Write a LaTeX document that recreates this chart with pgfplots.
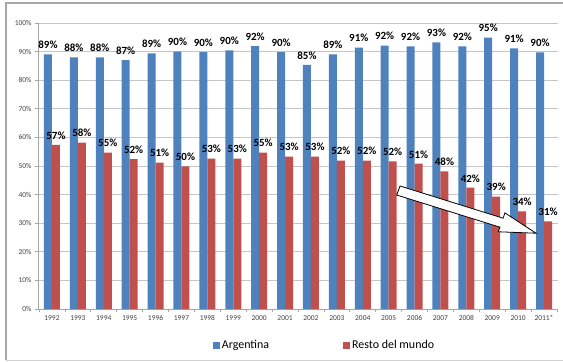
\documentclass[border=0pt]{standalone}
\usepackage{fontspec}
\setmainfont{Carlito}
\usepackage{pgfplots}
\pgfplotsset{compat=1.18}
\definecolor{argblue}{RGB}{79,129,189}
\definecolor{restred}{RGB}{192,80,77}
\begin{document}
\begin{tikzpicture}[x=1bp,y=1bp]
\path[use as bounding box] (-38,-52) rectangle (525,309);
\draw[gray!70, line width=1.2bp] (-32,-51) -- (-32,306) -- (525,306);
\draw[gray!35, line width=1bp] (-32,-51) -- (525,-51);
\begin{axis}[
  at={(0,0)}, anchor=south west,
  width=520bp, height=286bp, scale only axis,
  xmin=-0.54, xmax=19.54, ymin=0, ymax=100,
  ybar=0pt, bar width=8bp,
  axis x line*=bottom, axis y line*=left,
  axis line style={gray!70, line width=0.8bp},
  ytick={0,10,...,100},
  yticklabel={\pgfmathprintnumber{\tick}\%},
  ymajorgrids, grid style={gray!45, line width=0.8bp},
  xtick={0,...,19},
  xticklabels={1992,1993,1994,1995,1996,1997,1998,1999,2000,2001,2002,2003,2004,2005,2006,2007,2008,2009,2010,2011*},
  major x tick style={draw=none},
  minor xtick={-0.5,0.5,...,19.5},
  minor x tick style={gray!70, line width=0.8bp},
  y tick style={gray!70, line width=0.8bp},
  tick align=outside, major tick length=3bp, minor tick length=3bp,
  ticklabel style={font=\fontsize{7.5}{8}\selectfont, text=black!75},
  /pgf/number format/assume math mode=true,
  nodes near coords={\pgfmathprintnumber[fixed,precision=0]{\pgfplotspointmeta}\%},
  every node near coord/.append style={font=\bfseries\fontsize{11}{12}\selectfont, text=black, yshift=2bp},
  legend style={at={(0.551,-0.126)}, anchor=center, draw=none, fill=none,
    legend columns=2, font=\fontsize{12}{14}\selectfont,
    /tikz/every even column/.append style={column sep=72bp}},
  legend image code/.code={\fill[#1] (0bp,-3.5bp) rectangle (7bp,3.5bp);},
]
\addplot[fill=argblue, draw=none] coordinates {
 (0,89.0) (1,88.0) (2,88.0) (3,87.0) (4,89.4) (5,90.0) (6,89.8) (7,90.4) (8,91.9) (9,89.8)
 (10,85.4) (11,89.0) (12,91.4) (13,92.1) (14,91.8) (15,93.2) (16,91.8) (17,94.9) (18,91.1) (19,89.7)};
\addlegendentry{Argentina}
\addplot[fill=restred, draw=none] coordinates {
 (0,57.4) (1,58.2) (2,54.7) (3,52.4) (4,51.2) (5,49.9) (6,52.6) (7,52.6) (8,54.7) (9,53.3)
 (10,53.3) (11,51.9) (12,51.9) (13,51.6) (14,50.8) (15,48.1) (16,42.4) (17,39.3) (18,34.1) (19,30.6)};
\addlegendentry{Resto del mundo}
\draw[black, fill=white, line width=0.8bp, line join=miter]
  (axis cs:13.44,43.0) -- (axis cs:17.42,31.75) -- (axis cs:17.49,33.6)
  -- (axis cs:18.69,26.5) -- (axis cs:17.23,27.0) -- (axis cs:17.30,28.6)
  -- (axis cs:13.31,39.86) -- cycle;
\end{axis}
\end{tikzpicture}
\end{document}
